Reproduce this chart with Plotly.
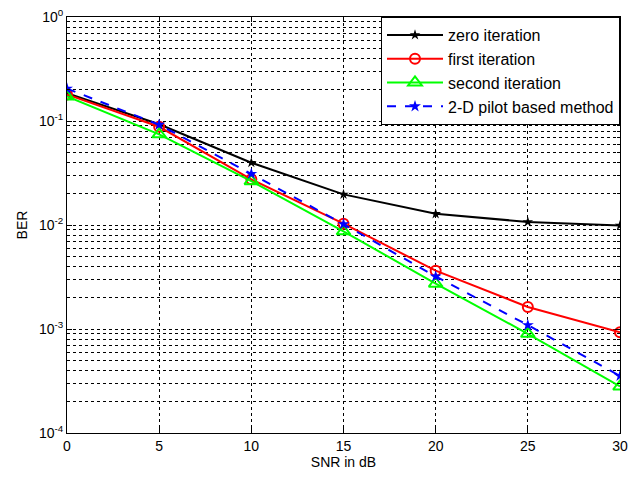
import plotly.graph_objects as go

snr = [0, 5, 10, 15, 20, 25, 30]
zero_iter = [0.185, 0.093, 0.0397, 0.0197, 0.0128, 0.0107, 0.0099]
first_iter = [0.180, 0.088, 0.0275, 0.0103, 0.00364, 0.00163, 0.00093]
second_iter = [0.172, 0.0745, 0.0264, 0.0087, 0.00273, 0.00090, 0.00028]
pilot_2d = [0.205, 0.092, 0.031, 0.0102, 0.0032, 0.00109, 0.000354]

y_tickvals = [1e-4, 1e-3, 1e-2, 1e-1, 1]
y_ticktext = ["10<sup>-4</sup>", "10<sup>-3</sup>", "10<sup>-2</sup>", "10<sup>-1</sup>", "10<sup>0</sup>"]
x_tickvals = [0, 5, 10, 15, 20, 25, 30]

FONT = "Liberation Sans, Arial"

fig = go.Figure()
fig.add_trace(go.Scatter(x=snr, y=zero_iter, name="zero iteration", mode="lines+markers",
                         line=dict(color="black", width=2),
                         marker=dict(symbol="star", size=8, color="black")))
fig.add_trace(go.Scatter(x=snr, y=first_iter, name="first iteration", mode="lines+markers",
                         line=dict(color="red", width=2),
                         marker=dict(symbol="circle-open", size=10, color="red", line=dict(width=2))))
fig.add_trace(go.Scatter(x=snr, y=second_iter, name="second iteration", mode="lines+markers",
                         line=dict(color="#00ff00", width=2),
                         marker=dict(symbol="triangle-up-open", size=12, color="#00ff00", line=dict(width=2))))
fig.add_trace(go.Scatter(x=snr, y=pilot_2d, name="2-D pilot based method", mode="lines+markers",
                         line=dict(color="blue", width=2, dash="dash"),
                         marker=dict(symbol="star", size=9, color="blue")))

axis_common = dict(showline=True, linecolor="black", linewidth=1, mirror="ticks",
                   ticks="inside", ticklen=5, tickcolor="black", automargin=False,
                   showgrid=True, gridcolor="black", griddash="dot", gridwidth=1,
                   zeroline=False, tickfont=dict(family=FONT, size=14, color="black"))

fig.update_xaxes(range=[0, 30], tickvals=x_tickvals,
                 title=dict(text="SNR in dB", font=dict(family=FONT, size=14, color="black"), standoff=2),
                 **axis_common)
fig.update_yaxes(type="log", range=[-4, 0], tickvals=y_tickvals, ticktext=y_ticktext,
                 title=dict(text="BER", font=dict(family=FONT, size=14, color="black"), standoff=8),
                 minor=dict(dtick="D1", showgrid=True, gridcolor="black", griddash="dot", gridwidth=1,
                            ticks="inside", ticklen=3, tickcolor="black"),
                 **axis_common)

fig.update_layout(
    width=629, height=477,
    margin=dict(l=67, r=9, t=17, b=44, autoexpand=False),
    paper_bgcolor="white", plot_bgcolor="white",
    font=dict(family=FONT, size=14, color="black"),
    legend=dict(x=1, y=1, xanchor="right", yanchor="top",
                bgcolor="white", bordercolor="black", borderwidth=1,
                font=dict(family=FONT, size=16, color="black"),
                itemwidth=56, tracegroupgap=0),
    showlegend=True,
)

fig.write_html("out.html", config={"displayModeBar": False},
               post_script="document.body.style.margin='0';document.body.style.padding='0';")
